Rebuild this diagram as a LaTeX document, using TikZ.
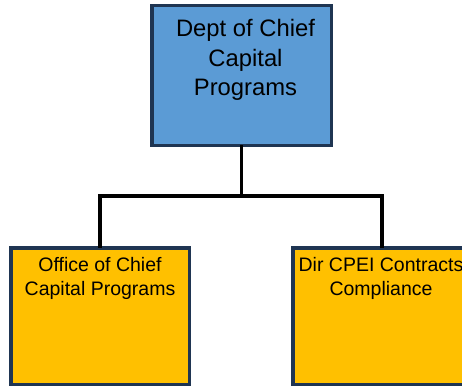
\documentclass[tikz,border=0pt]{standalone}
\usepackage{fontspec}
\setmainfont{Liberation Sans}
\definecolor{deptblue}{RGB}{91,155,213}
\definecolor{unitgold}{RGB}{255,192,0}
\definecolor{edgenavy}{RGB}{31,53,82}
\begin{document}
\begin{tikzpicture}[x=1pt, y=-1pt,
    box/.style={draw=edgenavy, line width=3.5pt, inner sep=0pt, minimum width=178.5pt, minimum height=136.5pt},
    boxtext/.style={anchor=north, align=center, inner sep=0pt},
    conn/.style={line width=3.5pt, line cap=rect}]

    %%page frame
    \useasboundingbox (0,0) rectangle (462,385);
    \clip (0,0) rectangle (462,385);

    %%draw the connectors
    \coordinate (bus) at (242.5,196);

    %%draw the boxes
    \node[box, fill=deptblue, minimum width=179.5pt, minimum height=139.5pt] (dept) at (241.5,75.5){};
        \node[boxtext, font=\fontsize{23.8}{29.5}\selectfont] (depttext) at (245.5,19.5){Dept of Chief\\Capital\\Programs};
    \node[box, fill=unitgold] (office) at (100,316){};
        \node[boxtext, font=\fontsize{19.5}{24}\selectfont] (officetext) at (100,257){Office of Chief\\Capital Programs};
    \node[box, fill=unitgold] (cpei) at (382,316){};
        \node[boxtext, font=\fontsize{19.5}{24}\selectfont] (cpeitext) at (381,257){Dir CPEI Contracts\\Compliance};

    \draw[conn] (dept.south) -- (dept.south |- bus);
    \draw[conn] (dept.south |- bus) -| (office.north);
    \draw[conn] (dept.south |- bus) -| (cpei.north);
\end{tikzpicture}
\end{document}
